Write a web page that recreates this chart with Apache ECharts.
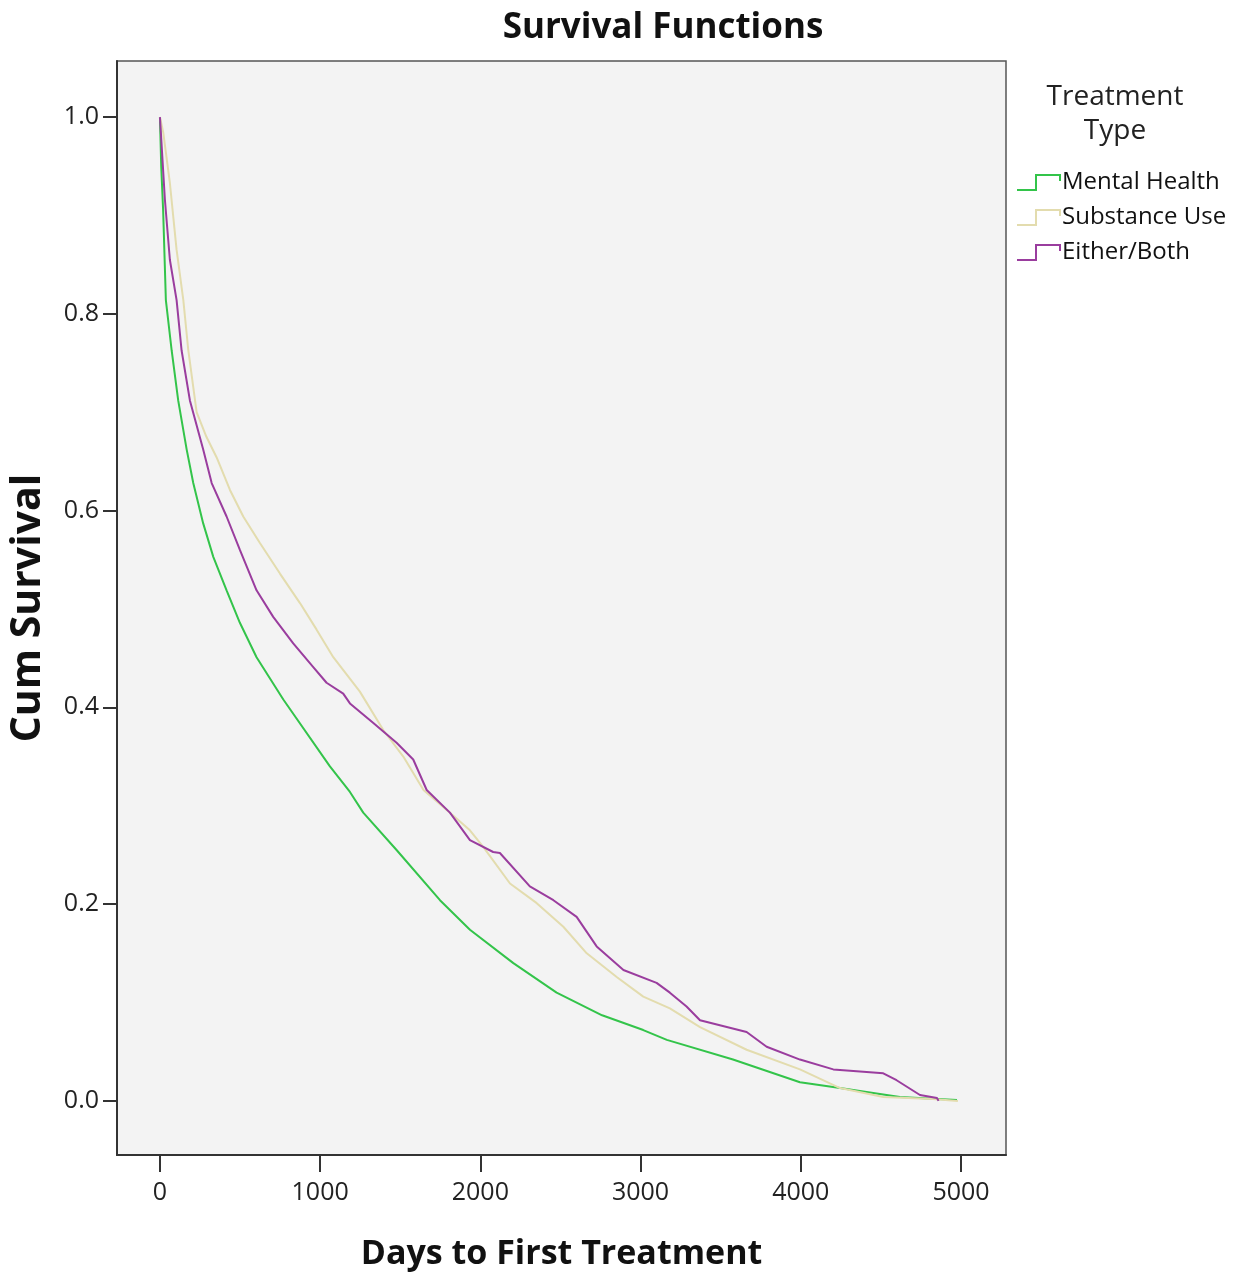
<!DOCTYPE html>
<html>
<head>
<meta charset="utf-8">
<script src="https://cdn.jsdelivr.net/npm/echarts@6/dist/echarts.min.js"></script>
<style>
html,body{margin:0;padding:0;background:#fff;}
#chart{width:1233px;height:1279px;}
</style>
</head>
<body>
<div id="chart"></div>
<script>
const seriesNames = ['Mental Health', 'Substance Use', 'Either/Both'];
const xTicks = [0, 1000, 2000, 3000, 4000, 5000];
const yTicks = [0, 0.2, 0.4, 0.6, 0.8, 1.0];

const mentalHealth = [
  [0,1.0],[8,0.95],[20,0.905],[37,0.814],[73,0.763],[114,0.712],[167,0.662],[208,0.628],
  [270,0.587],[333,0.553],[416,0.519],[499,0.486],[603,0.451],[770,0.408],[1061,0.340],
  [1186,0.314],[1269,0.293],[1477,0.255],[1748,0.204],[1935,0.174],[2206,0.140],[2476,0.110],
  [2760,0.087],[3017,0.072],[3164,0.062],[3577,0.042],[3995,0.019],[4245,0.013],[4619,0.004],[4975,0.001]
];
const substanceUse = [
  [0,1.0],[21,0.984],[62,0.933],[104,0.865],[146,0.814],[177,0.763],[229,0.700],[290,0.675],
  [354,0.654],[437,0.621],[520,0.594],[624,0.567],[749,0.536],[874,0.506],[978,0.479],[1082,0.451],
  [1248,0.416],[1394,0.377],[1519,0.350],[1645,0.316],[1810,0.293],[1935,0.275],[2019,0.258],
  [2185,0.221],[2352,0.201],[2518,0.177],[2664,0.150],[2851,0.126],[3017,0.106],[3183,0.094],
  [3371,0.075],[3662,0.052],[3995,0.032],[4245,0.013],[4515,0.004],[4825,0.002],[4981,0.0]
];
const eitherBoth = [
  [0,1.0],[31,0.916],[62,0.855],[104,0.814],[135,0.763],[187,0.712],[270,0.662],[323,0.628],
  [416,0.594],[499,0.560],[603,0.519],[707,0.492],[832,0.465],[957,0.441],[1040,0.425],[1144,0.414],
  [1186,0.404],[1332,0.384],[1477,0.364],[1581,0.347],[1665,0.316],[1810,0.293],[1935,0.265],
  [2080,0.253],[2122,0.252],[2309,0.218],[2456,0.204],[2601,0.187],[2726,0.157],[2893,0.133],
  [3100,0.120],[3183,0.110],[3287,0.096],[3371,0.082],[3662,0.070],[3787,0.055],[3995,0.042],
  [4203,0.032],[4515,0.028],[4598,0.021],[4744,0.006],[4850,0.003],[4860,0.0]
];

const colors = ['#33c44a', '#e3dcae', '#9a3d9e'];
const FONT = '"Open Sans", "DejaVu Sans", sans-serif';
const stepIcon = 'path://M0,16 L18,16 L18,1 L44,1 L44,8 L42,8 L42,3 L20,3 L20,18 L0,18 Z';

const chart = echarts.init(document.getElementById('chart'), null, {renderer: 'canvas'});
const option = {
  animation: false,
  backgroundColor: '#ffffff',
  textStyle: {fontFamily: FONT},
  grid: {
    left: 117, top: 61, right: 227, bottom: 124,
    containLabel: false, outerBoundsMode: 'none',
    show: true, backgroundColor: '#f3f3f3', borderColor: '#555', borderWidth: 1.5
  },
  graphic: [
    {type: 'text', x: 663, y: 28, style: {text: 'Survival Functions', font: 'bold 35px ' + FONT, fill: '#111', textAlign: 'center', textVerticalAlign: 'middle'}},
    {type: 'text', x: 1115, y: 97, style: {text: 'Treatment', font: '28px ' + FONT, fill: '#222', textAlign: 'center', textVerticalAlign: 'middle'}},
    {type: 'text', x: 1115, y: 131, style: {text: 'Type', font: '28px ' + FONT, fill: '#222', textAlign: 'center', textVerticalAlign: 'middle'}}
  ],
  legend: {
    orient: 'vertical', left: 1012, top: 160,
    itemWidth: 44, itemHeight: 18, itemGap: 0,
    textStyle: {fontSize: 24, color: '#111', fontFamily: FONT, padding: [0,0,0,-4], lineHeight: 35},
    data: seriesNames.map((n, i) => ({name: n, icon: stepIcon}))
  },
  xAxis: {
    type: 'value', min: -268, max: 5281,
    name: 'Days to First Treatment', nameLocation: 'middle', nameGap: 82,
    nameTextStyle: {fontSize: 34, fontWeight: 'bold', color: '#111', fontFamily: FONT},
    axisLine: {show: true, onZero: false, lineStyle: {color: '#333', width: 2}},
    axisTick: {show: true, length: 17, lineStyle: {color: '#333', width: 2}, customValues: xTicks},
    axisLabel: {fontSize: 25, color: '#222', margin: 25, customValues: xTicks, fontFamily: FONT,
      formatter: v => String(v)},
    splitLine: {show: false}
  },
  yAxis: {
    type: 'value', min: -0.055, max: 1.057,
    name: 'Cum Survival', nameLocation: 'middle', nameGap: 68, nameRotate: 90,
    nameTextStyle: {fontSize: 41, fontWeight: 'bold', color: '#111', fontFamily: FONT},
    axisLine: {show: true, onZero: false, lineStyle: {color: '#333', width: 2}},
    axisTick: {show: true, length: 14, lineStyle: {color: '#333', width: 2}, customValues: yTicks},
    axisLabel: {fontSize: 25, color: '#222', margin: 18, customValues: yTicks, fontFamily: FONT,
      formatter: v => v.toFixed(1)},
    splitLine: {show: false}
  },
  series: [
    {name: seriesNames[0], type: 'line', data: mentalHealth, showSymbol: false, color: colors[0], lineStyle: {width: 2}, z: 2},
    {name: seriesNames[1], type: 'line', data: substanceUse, showSymbol: false, color: colors[1], lineStyle: {width: 2}, z: 3},
    {name: seriesNames[2], type: 'line', data: eitherBoth, showSymbol: false, color: colors[2], lineStyle: {width: 2}, z: 4}
  ]
};
chart.setOption(option);
</script>
</body>
</html>
